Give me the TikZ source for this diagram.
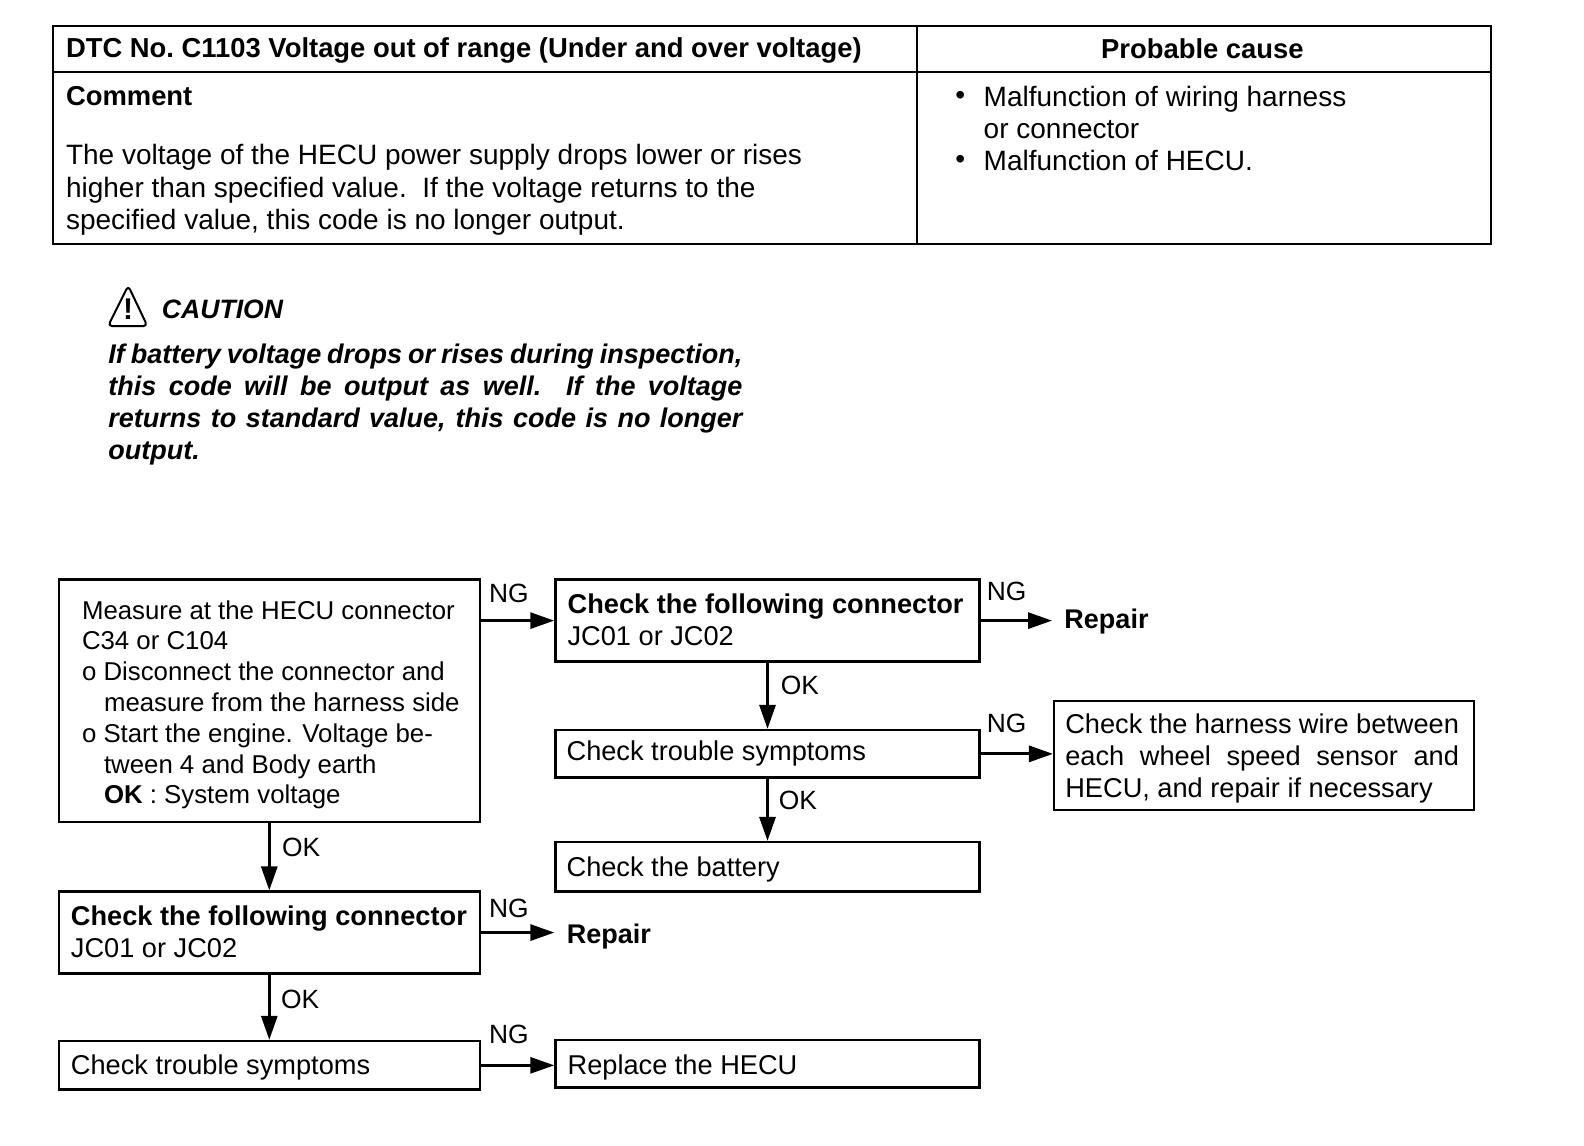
\documentclass[tikz,border=0pt]{standalone}
\usepackage{fontspec}
\setmainfont{Liberation Sans}
\usetikzlibrary{arrows.meta,calc}
\newlength{\unitpx}\setlength{\unitpx}{0.5048pt}
\tikzset{
 x=\unitpx,y=-\unitpx,
 flow/.style={draw=black,line width=1.25pt,anchor=north west,inner sep=0pt,align=left,font=\fontsize{13.6}{16.2}\selectfont},
 rule/.style={line width=1pt,draw=black},
 txt/.style={anchor=west,inner sep=0pt,align=left,font=\fontsize{14}{16.2}\selectfont},
 hd/.style={txt,font=\fontsize{13.7}{16.4}\selectfont\bfseries},
 lab/.style={anchor=west,inner sep=0pt,font=\fontsize{13.2}{16}\selectfont},
 rep/.style={anchor=west,inner sep=0pt,font=\fontsize{13.5}{16}\selectfont\bfseries},
 caut/.style={anchor=west,inner sep=0pt,font=\fontsize{13.5}{16}\selectfont\bfseries\itshape},
 arr/.style={line width=1.5pt,-{Triangle[length=12pt,width=8pt]}},
}
\newcommand{\boxx}[6]{\node[flow,minimum width=#3*\unitpx,minimum height=#4*\unitpx] (#1) at (#2) {};
 \node[flow,draw=none,anchor=west] (#1t) at ($(#1.west)+(#5)$) {#6};}
\begin{document}
\begin{tikzpicture}
\useasboundingbox (0,0) rectangle (1569,1135);
% table
\node[rule,draw,anchor=north west,minimum width=1424*\unitpx,minimum height=216*\unitpx,inner sep=0pt] (tbl) at (52,25) {};
\coordinate (ta) at (908,25);
\coordinate (tb) at (908,241);
\coordinate (tc) at (52,71);
\coordinate (td) at (1476,71);
\draw[rule] (ta) -- (tb);
\draw[rule] (tc) -- (td);
\node[hd] (h1) at (65,50) {DTC No.\ C1103 Voltage out of range (Under and over voltage)};
\node[hd,anchor=center] (h2) at (1191,48) {Probable cause};
\node[hd] (cm) at (65,95) {Comment};
\node[txt] (body) at (65,188) {The voltage of the HECU power supply drops lower or rises\\higher than specified value.\ \ If the voltage returns to the\\specified value, this code is no longer output.};
\node[txt] (b1) at (946,97) {\textbullet};
\node[txt] (c1t) at (974,98) {Malfunction of wiring harness};
\node[txt] (c2t) at (974,128) {or connector};
\node[txt] (b2) at (946,160) {\textbullet};
\node[txt] (c3t) at (974,159) {Malfunction of HECU.};
% caution
\draw[line width=1pt,rounded corners=2pt,line join=round] (127,283) -- (146,323) -- (107,323) -- cycle;
\node[inner sep=0pt,font=\fontsize{15}{15}\selectfont\bfseries] (ex) at (127,306) {!};
\node[caut,font=\fontsize{13.3}{16}\selectfont\bfseries\itshape] (ct) at (160,306) {CAUTION};
\node[caut] (l1) at (107,353) {\makebox[628\unitpx][s]{If battery voltage drops or rises during inspection,}};
\node[caut] (l2) at (107,385) {\makebox[628\unitpx][s]{this code will be output as well.\ \ If the voltage}};
\node[caut] (l3) at (107,417) {\makebox[628\unitpx][s]{returns to standard value, this code is no longer}};
\node[caut] (l4) at (107,449) {output.};
% flow boxes
\begin{scope}[flow/.append style={font=\fontsize{12.9}{15.4}\selectfont}]
\boxx{m}{57,573}{417}{240}{23,4}{Measure at the HECU connector\\C34 or C104\\o Disconnect the connector and\\\hspace*{11pt}measure from the harness side\\o Start the engine. Voltage be-\\\hspace*{11pt}tween 4 and Body earth\\\hspace*{11pt}\textbf{OK} : System voltage}
\end{scope}
\boxx{a}{549,573}{420}{81}{12,-1}{\textbf{Check the following connector}\\JC01 or JC02}
\boxx{b}{549,722}{420}{47}{11,0}{Check trouble symptoms}
\boxx{c}{549,833}{420}{49}{11,2}{Check the battery}
\boxx{d}{1043,693}{416}{108}{11,3}{\makebox[390\unitpx][s]{Check the harness wire between}\\\makebox[390\unitpx][s]{each wheel speed sensor and}\\HECU, and repair if necessary}
\boxx{e}{57,882}{417}{81}{12,-1}{\textbf{Check the following connector}\\JC01 or JC02}
\boxx{f}{57,1030}{417}{48}{12,2}{Check trouble symptoms}
\boxx{g}{549,1029}{420}{47}{12,4}{Replace the HECU}
\node[rep] (r1) at (1054,616) {Repair};
\node[rep] (r2) at (561,928) {Repair};
% connectors
\draw[arr] (m.north east |- a.west) -- (a.west);
\draw[arr,shorten >=6pt] (a.east) -- (a.east -| r1.west);
\draw[arr] (a.south) -- (b.north);
\draw[arr] (b.south) -- (c.north);
\draw[arr] (b.east) -- (b.east -| d.west);
\draw[arr] (m.south) -- (e.north);
\draw[arr,shorten >=6pt] (e.east) -- (e.east -| r2.west);
\draw[arr] (e.south) -- (f.north);
\draw[arr] (f.east) -- (f.east -| g.west);
% labels
\node[lab] (n1) at (484,588) {NG};
\node[lab] (n2) at (977,586) {NG};
\node[lab] (n3) at (977,717) {NG};
\node[lab] (n4) at (484,900) {NG};
\node[lab] (n5) at (484,1025) {NG};
\node[lab] (o1) at (773,679) {OK};
\node[lab] (o2) at (771,793) {OK};
\node[lab] (o3) at (279,839) {OK};
\node[lab] (o4) at (278,990) {OK};
\end{tikzpicture}
\end{document}
